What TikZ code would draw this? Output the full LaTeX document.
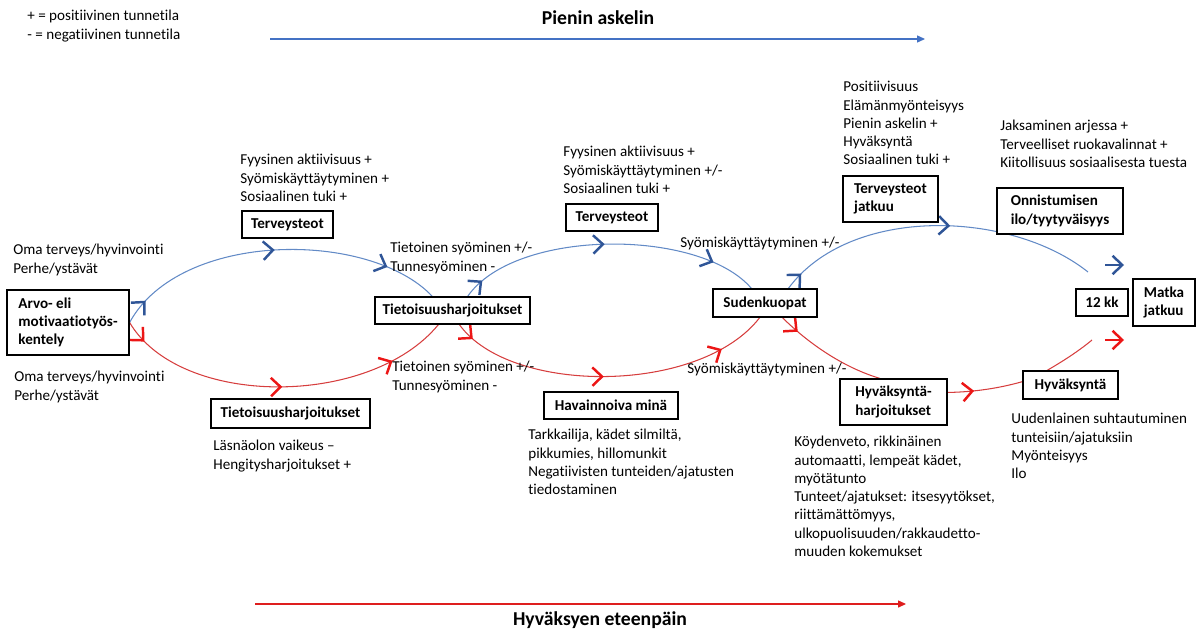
\documentclass[tikz,border=0pt]{standalone}
\usepackage{fontspec}
\setmainfont{Carlito}[Ligatures=NoCommon]
\usepackage{xcolor}
\usepackage{tikz}
\usetikzlibrary{arrows.meta,decorations.markings}
\definecolor{curveblue}{RGB}{98,138,198}
\definecolor{tipblue}{RGB}{47,85,151}
\definecolor{curvered}{RGB}{214,62,62}
\definecolor{tipred}{RGB}{236,22,22}
\definecolor{lineblue}{RGB}{68,114,196}
\definecolor{linered}{RGB}{222,30,30}
\newcommand{\txt}{\fontsize{8.6}{10.4}\selectfont}
\newcommand{\ttl}{\fontsize{11.2}{13}\selectfont\bfseries}
\pgfdeclarelayer{bg}
\pgfsetlayers{bg,main}
\tikzset{box/.style={draw, fill=white, line width=0.7pt,
         font=\txt\bfseries, align=left, inner sep=0pt},
         note/.style={anchor=north west, inner sep=0pt, align=left, font=\txt},
         chevblue/.tip={Straight Barb[length=5.5pt, width=10.5pt, line width=1.4pt, color=tipblue]},
         chevred/.tip={Straight Barb[length=5.5pt, width=10.5pt, line width=1.4pt, color=tipred]},
         bluetip/.style={postaction={decorate, decoration={markings,
         mark=at position #1 with {\arrow{chevblue}}}}},
         redtip/.style={postaction={decorate, decoration={markings,
         mark=at position #1 with {\arrow{chevred}}}}}}

\begin{document}
\begin{tikzpicture}[x=0.02cm, y=-0.02cm]
\useasboundingbox (0,0) rectangle (1203,635);

% boxes
\node[box, minimum width=2.44cm, minimum height=1.3cm] (arvo) at (68,322.5) {Arvo- eli\\motivaatiotyös-\\kentely};
\node[box, minimum width=1.82cm, minimum height=0.54cm] (terv1) at (287.5,224.5) {Terveysteot};
\node[box, minimum width=3.1cm, minimum height=0.54cm] (tiet) at (452.5,310.5) {Tietoisuusharjoitukset};
\node[box, minimum width=3.18cm, minimum height=0.58cm] (tietlow) at (290.5,413.5) {Tietoisuusharjoitukset};
\node[box, minimum width=1.84cm, minimum height=0.54cm] (terv2) at (612,217.5) {Terveysteot};
\node[box, minimum width=2.68cm, minimum height=0.54cm] (hav) at (611,405.5) {Havainnoiva minä};
\node[box, minimum width=2.08cm, minimum height=0.56cm] (suden) at (765,303) {Sudenkuopat};
\node[box, minimum width=1.9cm, minimum height=0.92cm] (tervjat) at (890.5,199) {Terveysteot\\jatkuu};
\node[box, minimum width=2.52cm, minimum height=0.92cm] (onni) at (1060,211) {Onnistumisen\\ilo/tyytyväisyys};
\node[box, minimum width=1.04cm, minimum height=0.54cm] (kk) at (1102,302.5) {12 kk};
\node[box, minimum width=1.24cm, minimum height=0.94cm] (matka) at (1164,302.5) {Matka\\jatkuu};
\node[box, minimum width=2.14cm, minimum height=0.92cm] (hyvharj) at (893.5,402) {Hyväksyntä-\\harjoitukset};
\node[box, minimum width=1.9cm, minimum height=0.56cm] (hyv) at (1070.5,385) {Hyväksyntä};

\coordinate (blueend) at (1088,272);
\coordinate (redend) at (1092,340);

% curves
\begin{pgfonlayer}{bg}
\draw[curveblue, line width=0.6pt, bluetip=0.08, bluetip=0.5, bluetip=0.84]
  (arvo.east) .. controls (180,230) and (370,230) .. (tiet.145);
\draw[curveblue, line width=0.6pt, bluetip=0.07, bluetip=0.49, bluetip=0.85]
  (tiet.43) .. controls (515,228) and (700,228) .. (suden.133);
\draw[curveblue, line width=0.6pt, bluetip=0.06, bluetip=0.55]
  (suden.32) .. controls (850,205) and (1010,210) .. (blueend);
\draw[curvered, line width=0.6pt, redtip=0.07, redtip=0.5, redtip=0.83]
  (arvo.east) .. controls (180,408) and (370,408) .. (tiet.-135);
\draw[curvered, line width=0.6pt, redtip=0.06, redtip=0.48, redtip=0.85]
  (tiet.-64) .. controls (510,395) and (700,395) .. (suden.-110);
\draw[curvered, line width=0.6pt, redtip=0.18]
  (suden.-40) .. controls (810,345) and (845,368) .. (hyvharj.120);
\draw[curvered, line width=0.6pt, redtip=0.35]
  (hyvharj.10) .. controls (975,392) and (1000,388) .. (hyv.176);
\draw[curvered, line width=0.6pt]
  (hyv.148) .. controls (1065,360) and (1080,350) .. (redend);
\end{pgfonlayer}

\coordinate (bluea) at (1105,265);
\coordinate (blueb) at (1124,265);
\coordinate (reda) at (1105,340);
\coordinate (redb) at (1124,340);
\draw[tipblue, line width=1.2pt, -chevblue] (bluea) -- (blueb);
\draw[tipred, line width=1.2pt, -chevred] (reda) -- (redb);

% texts
\node[note] (legend) at (27,10) {+ = positiivinen tunnetila\\- = negatiivinen tunnetila};
\node[note] (fys1) at (240,154) {Fyysinen aktiivisuus +\\Syömiskäyttäytyminen +\\Sosiaalinen tuki +};
\node[note] (oma1) at (13,244) {Oma terveys/hyvinvointi\\Perhe/ystävät};
\node[note] (oma2) at (14,371) {Oma terveys/hyvinvointi\\Perhe/ystävät};
\node[note] (lasna) at (213,440) {Läsnäolon vaikeus –\\Hengitysharjoitukset +};
\node[note] (tsyo1) at (390,242) {Tietoinen syöminen +/-\\Tunnesyöminen -};
\node[note] (tsyo2) at (392,361) {Tietoinen syöminen +/-\\Tunnesyöminen -};
\node[note] (fys2) at (563,146) {Fyysinen aktiivisuus +\\Syömiskäyttäytyminen +/-\\Sosiaalinen tuki +};
\node[note] (syo1) at (680,237) {Syömiskäyttäytyminen +/-};
\node[note] (syo2) at (687,363) {Syömiskäyttäytyminen +/-};
\node[note] (tark) at (528,429) {Tarkkailija, kädet silmiltä,\\pikkumies, hillomunkit\\Negatiivisten tunteiden/ajatusten\\tiedostaminen};
\node[note] (posit) at (843,81) {Positiivisuus\\Elämänmyönteisyys\\Pienin askelin +\\Hyväksyntä\\Sosiaalinen tuki +};
\node[note] (jaks) at (1000,120) {Jaksaminen arjessa +\\Terveelliset ruokavalinnat +\\Kiitollisuus sosiaalisesta tuesta};
\node[note] (koyd) at (794,436) {Köydenveto, rikkinäinen\\automaatti, lempeät kädet,\\myötätunto\\Tunteet/ajatukset: itsesyytökset,\\riittämättömyys,\\ulkopuolisuuden/rakkaudetto-\\muuden kokemukset};
\node[note] (uuden) at (1011,413) {Uudenlainen suhtautuminen\\tunteisiin/ajatuksiin\\Myönteisyys\\Ilo};

% direction arrows
\node[font=\ttl] (pienin) at (598,18) {Pienin askelin};
\node[font=\ttl] (hyvaksyen) at (600,620) {Hyväksyen eteenpäin};
\coordinate (topL) at (270,39);
\coordinate (topR) at (925,39);
\coordinate (botL) at (255,604);
\coordinate (botR) at (906,604);
\draw[lineblue, line width=0.6pt, -{Triangle[length=4.5pt, width=4pt]}] (topL) -- (topR);
\draw[linered, line width=0.6pt, -{Triangle[length=4.5pt, width=4pt]}] (botL) -- (botR);
\end{tikzpicture}
\end{document}
